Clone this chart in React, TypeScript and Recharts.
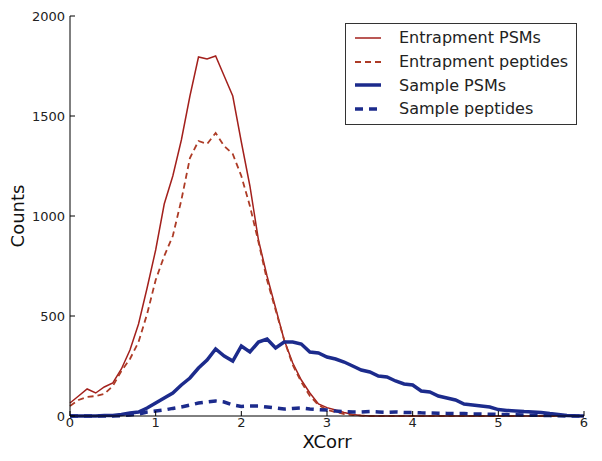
import { LineChart, Line, XAxis, YAxis, Legend } from "recharts";

const xcorr = [
  0, 0.1, 0.2, 0.3, 0.4, 0.5, 0.6, 0.7, 0.8, 0.9, 1, 1.1, 1.2, 1.3, 1.4, 1.5, 1.6, 1.7, 1.8, 1.9, 2, 2.1,
  2.2, 2.3, 2.4, 2.5, 2.6, 2.7, 2.8, 2.9, 3, 3.1, 3.2, 3.3, 3.4, 3.5, 3.6, 3.7, 3.8, 3.9, 4, 4.1, 4.2, 4.3,
  4.4, 4.5, 4.6, 4.7, 4.8, 4.9, 5, 5.1, 5.2, 5.3, 5.4, 5.5, 5.6, 5.7, 5.8, 5.9, 6,
];
const entrapmentPsms = [
  65, 100, 135, 115, 145, 165, 235, 330, 460, 640, 830, 1060, 1200, 1380, 1600, 1795, 1785, 1800, 1700,
  1600, 1370, 1150, 880, 700, 540, 380, 265, 180, 115, 60, 42, 30, 18, 8, 3, 0, 0, 0, 0, 0, 0, 0, 0, 0,
  0, 0, 0, 0, 0, 0, 0, 0, 0, 0, 0, 0, 0, 0, 0, 0, 0,
];
const entrapmentPeptides = [
  50, 80, 95, 100, 110, 150, 225, 285, 370, 510, 680, 800, 900, 1080, 1290, 1375, 1360, 1415, 1350, 1310,
  1200, 1050, 870, 680, 530, 380, 255, 170, 100, 55, 30, 20, 10, 5, 2, 0, 0, 0, 0, 0, 0, 0, 0, 0, 0, 0,
  0, 0, 0, 0, 0, 0, 0, 0, 0, 0, 0, 0, 0, 0, 0,
];
const samplePsms = [
  0, 0, 0, 0, 2, 3, 8, 15, 20, 40, 65, 90, 115, 155, 190, 240, 280, 335, 300, 275, 350, 320, 370, 385, 340,
  370, 370, 360, 320, 315, 295, 285, 270, 250, 230, 220, 200, 195, 175, 160, 155, 125, 120, 100, 90, 80,
  60, 55, 50, 45, 32, 28, 25, 22, 20, 18, 12, 8, 3, 1, 0,
];
const samplePeptides = [
  0, 0, 0, 0, 0, 0, 2, 5, 10, 20, 25, 30, 38, 45, 55, 65, 70, 75, 70, 55, 48, 50, 50, 45, 40, 35, 38, 40,
  35, 32, 30, 25, 22, 20, 20, 22, 20, 18, 20, 18, 18, 16, 15, 14, 13, 12, 12, 10, 10, 9, 8, 7, 6, 5, 4, 3,
  2, 1, 0, 0, 0,
];
const xTicks = [0, 1, 2, 3, 4, 5, 6];
const yTicks = [0, 500, 1000, 1500, 2000];

const data = xcorr.map((x, i) => ({
  x,
  entrapmentPsms: entrapmentPsms[i],
  entrapmentPeptides: entrapmentPeptides[i],
  samplePsms: samplePsms[i],
  samplePeptides: samplePeptides[i],
}));

const FONT = "'DejaVu Sans', sans-serif";
const RED = "#a3201c";
const RED_DASH = "#ad3b26";
const BLUE = "#1c2b8c";

const series = [
  { key: "entrapmentPsms", name: "Entrapment PSMs", color: RED, width: 1.5, dash: undefined },
  { key: "entrapmentPeptides", name: "Entrapment peptides", color: RED_DASH, width: 1.8, dash: "6 4" },
  { key: "samplePsms", name: "Sample PSMs", color: BLUE, width: 3.5, dash: undefined },
  { key: "samplePeptides", name: "Sample peptides", color: BLUE, width: 3.5, dash: "8 6" },
];

const tickStyle = { fontSize: 13, fill: "#222", fontFamily: FONT };
const noLabel = () => <g />;

function LegendBox() {
  return (
    <div
      style={{
        border: "1px solid #333",
        background: "#fff",
        padding: "2px 0 3px 9px",
        fontFamily: FONT,
        fontSize: 16,
        color: "#222",
        boxSizing: "border-box",
        width: 232,
      }}
    >
      {series.map((s) => (
        <div key={s.key} style={{ display: "flex", alignItems: "center", height: 23.7 }}>
          <svg width={26} height={8}>
            <line x1={0} x2={26} y1={4} y2={4} stroke={s.color} strokeWidth={s.width} strokeDasharray={s.dash} />
          </svg>
          <span style={{ marginLeft: 18, whiteSpace: "nowrap" }}>{s.name}</span>
        </div>
      ))}
    </div>
  );
}

export default function App() {
  return (
    <div style={{ position: "absolute", left: 0, top: 0, background: "#fff" }}>
      <LineChart width={602} height={461} data={data} margin={{ top: 16, right: 18, bottom: 0, left: 0 }}>
        <XAxis
          dataKey="x"
          type="number"
          domain={[0, 6]}
          ticks={xTicks}
          height={45}
          stroke="#000"
          tickSize={-5}
          tickMargin={7}
          tick={tickStyle}
          label={{ value: "XCorr", position: "insideBottom", offset: 13, fontSize: 18, fill: "#111", fontFamily: FONT }}
        />
        <XAxis
          xAxisId="top"
          dataKey="x"
          type="number"
          orientation="top"
          domain={[0, 6]}
          ticks={xTicks}
          height={0}
          mirror
          stroke="#000"
          tickSize={5}
          tick={noLabel}
        />
        <YAxis
          type="number"
          domain={[0, 2000]}
          ticks={yTicks}
          width={70}
          stroke="#000"
          tickSize={-5}
          tickMargin={10}
          tick={tickStyle}
          label={{
            value: "Counts",
            angle: -90,
            position: "insideLeft",
            offset: 18,
            fontSize: 18,
            fill: "#111",
            fontFamily: FONT,
            style: { textAnchor: "middle" },
          }}
        />
        <YAxis
          yAxisId="right"
          type="number"
          orientation="right"
          domain={[0, 2000]}
          ticks={yTicks}
          width={0}
          mirror
          stroke="#000"
          tickSize={5}
          tick={noLabel}
        />
        <Legend
          layout="vertical"
          align="center"
          verticalAlign="middle"
          wrapperStyle={{ top: 23, left: 345, width: 232, height: 101 }}
          content={() => <LegendBox />}
        />
        {series.map((s) => (
          <Line
            key={s.key}
            type="linear"
            dataKey={s.key}
            name={s.name}
            stroke={s.color}
            strokeWidth={s.width}
            strokeDasharray={s.dash}
            dot={false}
            activeDot={false}
            isAnimationActive={false}
          />
        ))}
      </LineChart>
    </div>
  );
}
